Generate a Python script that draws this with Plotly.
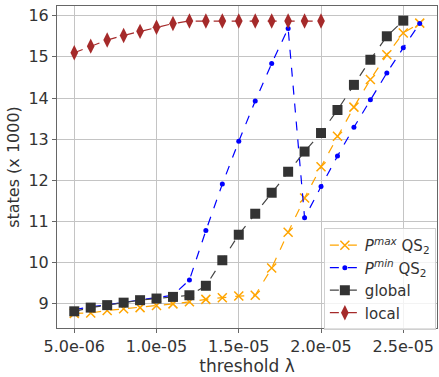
import plotly.graph_objects as go

# threshold values (lambda)
thresholds = [i * 1e-6 for i in range(5, 27)]

# number of states (in thousands)
pmax_qs2 = [8.77, 8.78, 8.84, 8.88, 8.91, 8.96, 9.00, 9.05, 9.11, 9.15, 9.19,
            9.21, 9.87, 10.74, 11.57, 12.33, 13.07, 13.78, 14.45, 15.05, 15.58, 15.82]
pmin_qs2 = [8.86, 8.93, 8.98, 9.04, 9.10, 9.15, 9.21, 9.58, 10.78, 11.91, 12.95,
            13.93, 14.84, 15.69, 11.09, 11.85, 12.59, 13.29, 13.96, 14.61, 15.22, 15.81]
global_states = [8.82, 8.91, 8.97, 9.03, 9.09, 9.13, 9.17, 9.21, 9.44, 10.06, 10.68,
                 11.19, 11.70, 12.21, 12.70, 13.15, 13.71, 14.32, 14.93, 15.50, 15.88]
local_states = [15.10, 15.26, 15.41, 15.52, 15.62, 15.72, 15.81, 15.87, 15.87, 15.87,
                15.87, 15.87, 15.87, 15.87, 15.87, 15.87]

x_tick_vals = [5e-6, 1e-5, 1.5e-5, 2e-5, 2.5e-5]
x_tick_text = ["5.0e-06", "1.0e-05", "1.5e-05", "2.0e-05", "2.5e-05"]
y_tick_vals = [9, 10, 11, 12, 13, 14, 15, 16]

FONT = "DejaVu Sans"
TXT = "#333333"

fig = go.Figure()

fig.add_trace(go.Scatter(
    x=thresholds[:len(pmax_qs2)], y=pmax_qs2, mode="lines+markers",
    name="<i>P</i><sup><i>max</i></sup> QS<sub>2</sub>",
    line=dict(color="orange", width=1.2, dash="dash"),
    marker=dict(symbol="x-thin", size=9, line=dict(color="orange", width=1.5), color="orange"),
))
fig.add_trace(go.Scatter(
    x=thresholds[:len(pmin_qs2)], y=pmin_qs2, mode="lines+markers",
    name="<i>P</i><sup><i>min</i></sup> QS<sub>2</sub>",
    line=dict(color="blue", width=1.2, dash="dash"),
    marker=dict(symbol="circle", size=5, color="blue"),
))
fig.add_trace(go.Scatter(
    x=thresholds[:len(global_states)], y=global_states, mode="lines+markers",
    name="global",
    line=dict(color="#444444", width=1.2, dash="dash"),
    marker=dict(symbol="square", size=10, color="#333333"),
))
fig.add_trace(go.Scatter(
    x=thresholds[:len(local_states)], y=local_states, mode="lines+markers",
    name="local",
    line=dict(color="#a52a2a", width=1.2, dash="dash"),
    marker=dict(symbol="diamond-tall", size=11, color="#a52a2a"),
))

# axis limits with a 5% margin around the data
all_x = thresholds
all_y = pmax_qs2 + pmin_qs2 + global_states + local_states
xspan = max(all_x) - min(all_x)
yspan = max(all_y) - min(all_y)
x_range = [min(all_x) - 0.05 * xspan, max(all_x) + 0.05 * xspan]
y_range = [min(all_y) - 0.05 * yspan, max(all_y) + 0.05 * yspan]

axis_common = dict(
    showgrid=True, gridcolor="#c4c4c4", gridwidth=1,
    showline=True, linecolor="#666666", linewidth=1, mirror=True,
    ticks="outside", ticklen=4, tickcolor="#666666",
    tickfont=dict(family=FONT, size=16, color=TXT),
    zeroline=False,
)

fig.update_layout(
    width=439, height=377,
    margin=dict(l=57, r=2, t=6, b=49),
    paper_bgcolor="white", plot_bgcolor="white",
    font=dict(family=FONT, color=TXT),
    xaxis=dict(range=x_range, tickvals=x_tick_vals, ticktext=x_tick_text,
               title=dict(text="threshold λ", font=dict(family=FONT, size=17, color=TXT),
                          standoff=0),
               **axis_common),
    yaxis=dict(range=y_range, tickvals=y_tick_vals,
               title=dict(text="states (x 1000)", font=dict(family=FONT, size=16, color=TXT),
                          standoff=4),
               **axis_common),
    legend=dict(
        x=0.997, y=-0.006, xanchor="right", yanchor="bottom",
        bgcolor="rgba(255,255,255,0.8)", bordercolor="#d0d0d0", borderwidth=1,
        font=dict(family=FONT, size=15, color=TXT),
        tracegroupgap=0, itemwidth=30,
    ),
    showlegend=True,
)

fig.write_html("out.html")
